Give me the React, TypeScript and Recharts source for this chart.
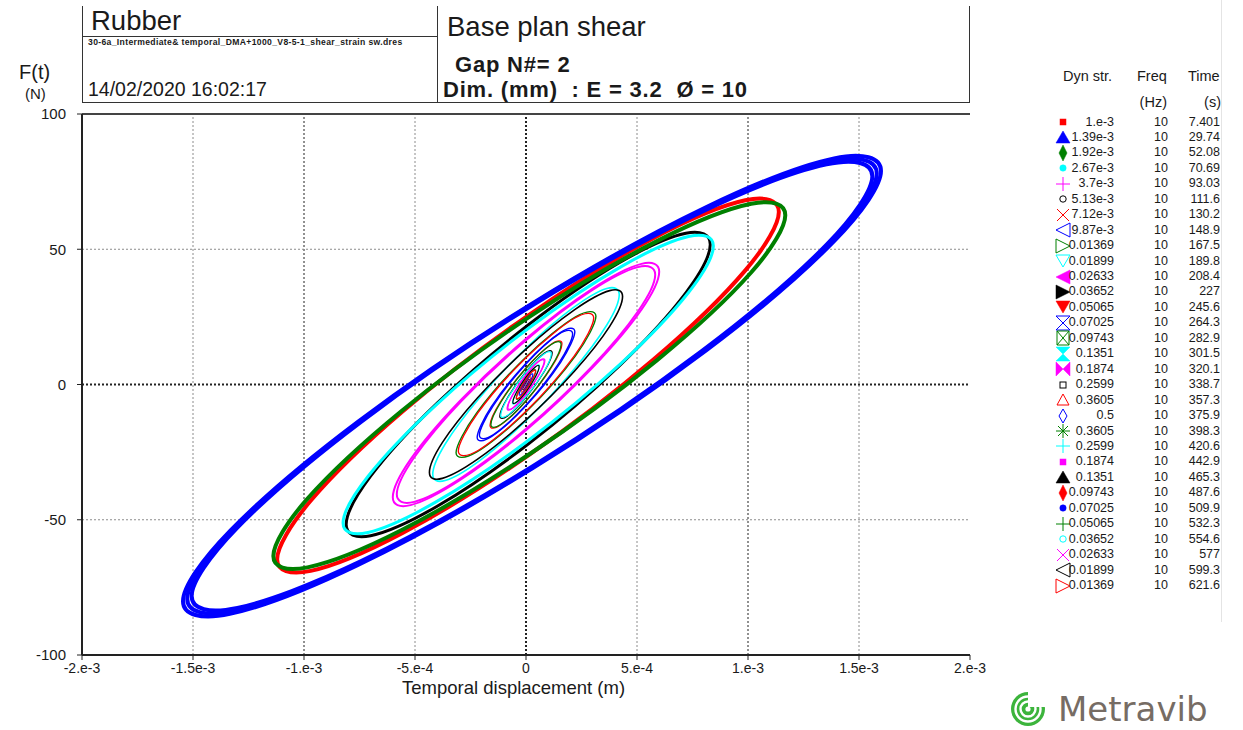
import React from "react";
import { LineChart, Line, XAxis, YAxis, ReferenceLine } from "recharts";

// Legend table
const dynStrain = [
  "1.e-3", "1.39e-3", "1.92e-3", "2.67e-3", "3.7e-3", "5.13e-3", "7.12e-3", "9.87e-3",
  "0.01369", "0.01899", "0.02633", "0.03652", "0.05065", "0.07025", "0.09743", "0.1351",
  "0.1874", "0.2599", "0.3605", "0.5", "0.3605", "0.2599", "0.1874", "0.1351",
  "0.09743", "0.07025", "0.05065", "0.03652", "0.02633", "0.01899", "0.01369",
];
const freqHz = [
  10, 10, 10, 10, 10, 10, 10, 10, 10, 10, 10, 10, 10, 10, 10, 10,
  10, 10, 10, 10, 10, 10, 10, 10, 10, 10, 10, 10, 10, 10, 10,
];
const timeS = [
  "7.401", "29.74", "52.08", "70.69", "93.03", "111.6", "130.2", "148.9",
  "167.5", "189.8", "208.4", "227", "245.6", "264.3", "282.9", "301.5",
  "320.1", "338.7", "357.3", "375.9", "398.3", "420.6", "442.9", "465.3",
  "487.6", "509.9", "532.3", "554.6", "577", "599.3", "621.6",
];

// Hysteresis loops: [displacement (mm = 1e-3 m), force (N)], points taken around each cycle
const up_1e3 = [[0.0031, 0.39], [0.0022, 0.16], [0, -0.16], [-0.0022, -0.39], [-0.0031, -0.39], [-0.0022, -0.16], [0, 0.16], [0.0022, 0.39]];
const up_139e3 = [[0.0043, 0.55], [0.003, 0.23], [0, -0.22], [-0.003, -0.54], [-0.0043, -0.55], [-0.003, -0.23], [0, 0.22], [0.003, 0.54]];
const up_192e3 = [[0.006, 0.75], [0.0042, 0.32], [0, -0.3], [-0.0042, -0.75], [-0.006, -0.75], [-0.0042, -0.32], [0, 0.3], [0.0042, 0.75]];
const up_267e3 = [[0.0083, 1.04], [0.0059, 0.44], [0, -0.42], [-0.0059, -1.03], [-0.0083, -1.04], [-0.0059, -0.44], [0, 0.42], [0.0059, 1.03]];
const up_37e3 = [[0.0115, 1.44], [0.0081, 0.61], [0, -0.58], [-0.0081, -1.43], [-0.0115, -1.44], [-0.0081, -0.61], [0, 0.58], [0.0081, 1.43]];
const up_513e3 = [[0.016, 1.9], [0.011, 0.8], [0, -0.8], [-0.011, -1.9], [-0.016, -1.9], [-0.011, -0.8], [0, 0.8], [0.011, 1.9]];
const up_712e3 = [[0.022, 2.7], [0.016, 1.1], [0, -1.1], [-0.016, -2.7], [-0.022, -2.7], [-0.016, -1.1], [0, 1.1], [0.016, 2.7]];
const up_987e3 = [[0.031, 3.7], [0.022, 1.6], [0, -1.5], [-0.022, -3.7], [-0.031, -3.7], [-0.022, -1.6], [0, 1.5], [0.022, 3.7]];
const up_01369 = [[0.044, 5.1], [0.031, 2.1], [0, -2.1], [-0.031, -5.1], [-0.044, -5.1], [-0.031, -2.1], [0, 2.1], [0.031, 5.1]];
const up_01899 = [[0.061, 6.8], [0.043, 2.9], [0, -2.7], [-0.043, -6.7], [-0.061, -6.8], [-0.043, -2.9], [0, 2.7], [0.043, 6.7]];
const up_02633 = [[0.085, 8.9], [0.06, 3.8], [0, -3.6], [-0.06, -8.8], [-0.085, -8.9], [-0.06, -3.8], [0, 3.6], [0.06, 8.8]];
const up_03652 = [[0.118, 11.7], [0.083, 4.9], [0, -4.7], [-0.083, -11.6], [-0.118, -11.7], [-0.083, -4.9], [0, 4.7], [0.083, 11.6]];
const up_05065 = [[0.162, 15.1], [0.115, 6.4], [0, -6.1], [-0.115, -15.0], [-0.162, -15.1], [-0.115, -6.4], [0, 6.1], [0.115, 15.0]];
const up_07025 = [[0.22, 19.5], [0.156, 8.2], [0, -7.9], [-0.156, -19.3], [-0.22, -19.5], [-0.156, -8.2], [0, 7.9], [0.156, 19.3]];
const up_09743 = [[0.315, 25.2], [0.223, 10.6], [0, -10.2], [-0.223, -25.0], [-0.315, -25.2], [-0.223, -10.6], [0, 10.2], [0.223, 25.0]];
const up_1351 = [[0.42, 33.2], [0.364, 22.0], [0.21, 5.0], [0, -13.4], [-0.21, -28.2], [-0.364, -35.5], [-0.42, -33.2], [-0.364, -22.0], [-0.21, -5.0], [0, 13.4], [0.21, 28.2], [0.364, 35.5]];
const up_1874 = [[0.6, 41.7], [0.52, 27.7], [0.3, 6.3], [0, -16.9], [-0.3, -35.5], [-0.52, -44.6], [-0.6, -41.7], [-0.52, -27.7], [-0.3, -6.3], [0, 16.9], [0.3, 35.5], [0.52, 44.6]];
const up_2599 = [[0.83, 51.8], [0.72, 33.9], [0.42, 6.9], [0.01, -22.0], [-0.4, -45.0], [-0.7, -55.9], [-0.81, -51.8], [-0.7, -33.9], [-0.4, -6.9], [0.01, 22.0], [0.42, 45.0], [0.72, 55.9]];
const up_3605 = [[1.139, 63.8], [0.988, 42.2], [0.574, 9.2], [0.009, -26.3], [-0.556, -54.9], [-0.97, -68.9], [-1.121, -64.6], [-0.97, -43.0], [-0.556, -10.0], [0.009, 25.5], [0.574, 54.1], [0.988, 68.1]];
// the 0.5 step drifts over its cycles: first, middle and last cycle
const peak_5 = [[1.599, 78.9], [1.388, 53.0], [0.813, 12.7], [0.027, -31.1], [-0.759, -66.8], [-1.334, -84.8], [-1.545, -80.1], [-1.334, -54.2], [-0.759, -13.9], [0.027, 29.9], [0.813, 65.6], [1.388, 83.6]];
const peak_5_mid = [[1.58, 78.0], [1.371, 52.4], [0.803, 12.6], [0.027, -30.8], [-0.75, -66.0], [-1.317, -83.7], [-1.526, -79.2], [-1.317, -53.6], [-0.75, -13.8], [0.027, 29.6], [0.803, 64.8], [1.371, 82.5]];
const peak_5_last = [[1.56, 77.0], [1.354, 51.7], [0.793, 12.4], [0.027, -30.4], [-0.74, -65.2], [-1.3, -82.6], [-1.506, -78.2], [-1.3, -52.9], [-0.74, -13.6], [0.027, 29.2], [0.793, 63.9], [1.354, 81.4]];
const down_3605 = [[1.168, 62.6], [1.014, 41.4], [0.592, 9.1], [0.015, -25.8], [-0.562, -53.9], [-0.984, -67.6], [-1.138, -63.4], [-0.984, -42.2], [-0.562, -9.9], [0.015, 25.0], [0.592, 53.1], [1.014, 66.8]];
const down_2599 = [[0.844, 51.2], [0.732, 34.0], [0.427, 7.7], [0.01, -20.7], [-0.407, -43.5], [-0.712, -54.7], [-0.824, -51.2], [-0.712, -34.0], [-0.407, -7.7], [0.01, 20.7], [0.427, 43.5], [0.732, 54.7]];
const down_1874 = [[0.582, 40.6], [0.504, 27.0], [0.291, 6.1], [0, -16.4], [-0.291, -34.5], [-0.504, -43.4], [-0.582, -40.6], [-0.504, -27.0], [-0.291, -6.1], [0, 16.4], [0.291, 34.5], [0.504, 43.4]];
const down_1351 = [[0.435, 32.5], [0.377, 21.5], [0.218, 4.9], [0, -13.1], [-0.218, -27.6], [-0.377, -34.7], [-0.435, -32.5], [-0.377, -21.5], [-0.218, -4.9], [0, 13.1], [0.218, 27.6], [0.377, 34.7]];
const down_09743 = [[0.305, 24.6], [0.216, 10.4], [0, -9.9], [-0.216, -24.4], [-0.305, -24.6], [-0.216, -10.4], [0, 9.9], [0.216, 24.4]];
const down_07025 = [[0.21, 18.7], [0.148, 7.9], [0, -7.6], [-0.148, -18.6], [-0.21, -18.7], [-0.148, -7.9], [0, 7.6], [0.148, 18.6]];
const down_05065 = [[0.158, 14.8], [0.112, 6.3], [0, -6.0], [-0.112, -14.7], [-0.158, -14.8], [-0.112, -6.3], [0, 6.0], [0.112, 14.7]];
const down_03652 = [[0.114, 11.4], [0.081, 4.8], [0, -4.6], [-0.081, -11.3], [-0.114, -11.4], [-0.081, -4.8], [0, 4.6], [0.081, 11.3]];
const down_02633 = [[0.082, 8.6], [0.058, 3.6], [0, -3.5], [-0.058, -8.6], [-0.082, -8.6], [-0.058, -3.6], [0, 3.5], [0.058, 8.6]];
const down_01899 = [[0.059, 6.6], [0.042, 2.8], [0, -2.7], [-0.042, -6.5], [-0.059, -6.6], [-0.042, -2.8], [0, 2.7], [0.042, 6.5]];
const down_01369 = [[0.043, 4.9], [0.03, 2.1], [0, -2.0], [-0.03, -4.9], [-0.043, -4.9], [-0.03, -2.1], [0, 2.0], [0.03, 4.9]];

// one entry per legend row; a row may hold several recorded cycles
const loops = [
  [up_1e3], [up_139e3], [up_192e3], [up_267e3], [up_37e3], [up_513e3], [up_712e3], [up_987e3],
  [up_01369], [up_01899], [up_02633], [up_03652], [up_05065], [up_07025], [up_09743], [up_1351],
  [up_1874], [up_2599], [up_3605], [peak_5, peak_5_mid, peak_5_last], [down_3605], [down_2599], [down_1874], [down_1351],
  [down_09743], [down_07025], [down_05065], [down_03652], [down_02633], [down_01899], [down_01369],
];

const xTicks = [-2, -1.5, -1, -0.5, 0, 0.5, 1, 1.5, 2];
const xTickLabels = ["-2.e-3", "-1.5e-3", "-1.e-3", "-5.e-4", "0", "5.e-4", "1.e-3", "1.5e-3", "2.e-3"];
const yTicks = [-100, -50, 0, 50, 100];

// styling per series
const RED = "#ff0000";
const BLUE = "#0000ff";
const GREEN = "#008000";
const CYAN = "#00ffff";
const MAGENTA = "#ff00ff";
const BLACK = "#000000";
const seriesColors = [
  RED, BLUE, GREEN, CYAN, MAGENTA, BLACK, RED, BLUE, GREEN, CYAN, MAGENTA, BLACK,
  RED, BLUE, GREEN, CYAN, MAGENTA, BLACK, RED, BLUE, GREEN, CYAN, MAGENTA, BLACK,
  RED, BLUE, GREEN, CYAN, MAGENTA, BLACK, RED,
];
const seriesWidths = [
  1, 1, 1, 1, 1, 1, 1, 1.2, 1.2, 1.2, 1.3, 1.3, 1.3, 1.4, 1.4, 1.6,
  2, 3, 4, 4, 4, 3, 2, 1.6, 1.4, 1.4, 1.3, 1.3, 1.3, 1.2, 1.2,
];
const markerShapes = [
  "square", "triUp", "diamond", "circle", "plus", "circleOpen", "cross", "triLeftOpen",
  "triRightOpen", "triDownOpen", "triLeft", "triRight", "triDown", "hourglassOpen", "boxCross", "hourglass",
  "bowtie", "squareOpen", "triUpOpen", "diamondOpen", "asterisk", "plus", "square", "triUp",
  "diamond", "circle", "plus", "circleOpen", "cross", "triLeftOpen", "triRightOpen",
];

const FONT = "'Liberation Sans', Arial, sans-serif";

// closed Catmull-Rom through the loop points (d3 curve factory)
function closedLoop(context: any) {
  let pts: number[][] = [];
  return {
    areaStart() {},
    areaEnd() {},
    lineStart() {
      pts = [];
    },
    point(x: number, y: number) {
      pts.push([+x, +y]);
    },
    lineEnd() {
      const n = pts.length;
      if (!n) return;
      context.moveTo(pts[0][0], pts[0][1]);
      for (let i = 0; i < n; i++) {
        const p0 = pts[(i - 1 + n) % n];
        const p1 = pts[i];
        const p2 = pts[(i + 1) % n];
        const p3 = pts[(i + 2) % n];
        context.bezierCurveTo(
          p1[0] + (p2[0] - p0[0]) / 6,
          p1[1] + (p2[1] - p0[1]) / 6,
          p2[0] - (p3[0] - p1[0]) / 6,
          p2[1] - (p3[1] - p1[1]) / 6,
          p2[0],
          p2[1],
        );
      }
      context.closePath();
    },
  };
}

function Marker({ shape, color }: { shape: string; color: string }) {
  const open = { fill: "none", stroke: color, strokeWidth: 1 };
  const solid = { fill: color, stroke: color, strokeWidth: 0.5 };
  let el: React.ReactNode = null;
  switch (shape) {
    case "square":
      el = <rect x={-3} y={-3} width={6} height={6} {...solid} />;
      break;
    case "squareOpen":
      el = <rect x={-3} y={-3} width={6} height={6} {...open} />;
      break;
    case "circle":
      el = <circle r={3.2} {...solid} />;
      break;
    case "circleOpen":
      el = <circle r={3.2} {...open} />;
      break;
    case "triUp":
      el = <polygon points="-7,6 7,6 0,-6" {...solid} />;
      break;
    case "triUpOpen":
      el = <polygon points="-6,5 6,5 0,-6" {...open} />;
      break;
    case "triDown":
      el = <polygon points="-7,-6 7,-6 0,6" {...solid} />;
      break;
    case "triDownOpen":
      el = <polygon points="-7,-6 7,-6 0,6" {...open} />;
      break;
    case "triLeft":
      el = <polygon points="7,-7 7,7 -7,0" {...solid} />;
      break;
    case "triLeftOpen":
      el = <polygon points="7,-7 7,7 -7,0" {...open} />;
      break;
    case "triRight":
      el = <polygon points="-7,-7 -7,7 7,0" {...solid} />;
      break;
    case "triRightOpen":
      el = <polygon points="-7,-7 -7,7 7,0" {...open} />;
      break;
    case "diamond":
      el = <polygon points="0,-8 4,0 0,8 -4,0" {...solid} />;
      break;
    case "diamondOpen":
      el = <polygon points="0,-7 4,0 0,7 -4,0" {...open} />;
      break;
    case "plus":
      el = <path d="M-7,0H7M0,-7V7" {...open} />;
      break;
    case "cross":
      el = <path d="M-6,-6L6,6M-6,6L6,-6" {...open} />;
      break;
    case "asterisk":
      el = <path d="M-7,0H7M0,-7V7M-5,-5L5,5M-5,5L5,-5" {...open} />;
      break;
    case "hourglass":
      el = <polygon points="-7,-7 7,-7 -7,7 7,7" {...solid} />;
      break;
    case "hourglassOpen":
      el = <polygon points="-7,-7 7,-7 -7,7 7,7" {...open} />;
      break;
    case "bowtie":
      el = <polygon points="-7,-7 7,7 7,-7 -7,7" {...solid} />;
      break;
    case "boxCross":
      el = <path d="M-6,-7H6V7H-6ZM-6,-7L6,7M6,-7L-6,7" {...open} />;
      break;
  }
  return (
    <svg width={18} height={18} viewBox="-9 -9 18 18" style={{ position: "absolute", left: 1054, top: -9 }}>
      {el}
    </svg>
  );
}

const abs = (left: number, top: number, extra: React.CSSProperties = {}): React.CSSProperties => ({
  position: "absolute",
  left,
  top,
  whiteSpace: "pre",
  lineHeight: 1,
  ...extra,
});

export default function App() {
  const rowTop = 122;
  const rowStep = 15.45;

  return (
    <div
      style={{
        position: "absolute",
        left: 0,
        top: 0,
        width: 1243,
        height: 730,
        background: "#fff",
        fontFamily: FONT,
        color: "#1a1a1a",
        overflow: "hidden",
      }}
    >
      {/* header frame */}
      <svg width={1243} height={110} style={{ position: "absolute", left: 0, top: 0 }}>
        <g stroke="#333" strokeWidth={1} shapeRendering="crispEdges">
          <line x1={82.5} y1={6} x2={82.5} y2={102} />
          <line x1={437.5} y1={6} x2={437.5} y2={102} />
          <line x1={969.5} y1={6} x2={969.5} y2={102} />
          <line x1={82} y1={102.5} x2={970} y2={102.5} />
          <line x1={82} y1={36.5} x2={437} y2={36.5} />
        </g>
      </svg>
      <div style={abs(91, 7, { fontSize: 27.5 })}>Rubber</div>
      <div style={abs(88, 38, { fontSize: 8.6, fontWeight: 700, letterSpacing: 0.35 })}>
        30-6a_Intermediate&amp; temporal_DMA+1000_V8-5-1_shear_strain sw.dres
      </div>
      <div style={abs(88, 80, { fontSize: 19.5 })}>14/02/2020 16:02:17</div>
      <div style={abs(447, 13, { fontSize: 27.5 })}>Base plan shear</div>
      <div style={abs(455, 54, { fontSize: 22, fontWeight: 700, letterSpacing: 0.8 })}>Gap N#= 2</div>
      <div style={abs(443, 79, { fontSize: 22, fontWeight: 700, letterSpacing: 0.8 })}>
        {"Dim. (mm)  : E = 3.2  Ø = 10"}
      </div>

      {/* axis titles */}
      <div style={abs(19, 62, { fontSize: 20 })}>F(t)</div>
      <div style={abs(25, 86, { fontSize: 15 })}>(N)</div>
      <div style={abs(402, 679, { fontSize: 18.5 })}>Temporal displacement (m)</div>

      <div style={{ position: "absolute", left: 0, top: 0 }}>
        <LineChart width={1000} height={730} margin={{ top: 114, right: 30, bottom: 45, left: 22 }}>
          <XAxis
            type="number"
            dataKey="x"
            domain={[-2, 2]}
            ticks={xTicks}
            interval={0}
            tickFormatter={(v: number) => xTickLabels[xTicks.indexOf(v)] ?? String(v)}
            tick={{ fontSize: 14, fill: "#1a1a1a", fontFamily: FONT }}
            tickSize={5}
            tickMargin={3}
            height={30}
            axisLine={{ stroke: "#222", strokeWidth: 2 }}
            tickLine={{ stroke: "#222", strokeWidth: 1 }}
          />
          <YAxis
            type="number"
            domain={[-100, 100]}
            ticks={yTicks}
            interval={0}
            tick={{ fontSize: 15, fill: "#1a1a1a", fontFamily: FONT }}
            tickSize={5}
            tickMargin={11}
            width={60}
            axisLine={{ stroke: "#222", strokeWidth: 2 }}
            tickLine={{ stroke: "#222", strokeWidth: 1 }}
          />
          {[-1.5, -0.5, 0.5, 1.5].map((v) => (
            <ReferenceLine key={`gx${v}`} x={v} stroke="#8c8c8c" strokeDasharray="2 2" strokeWidth={1} />
          ))}
          {[-1, 1].map((v) => (
            <ReferenceLine key={`mx${v}`} x={v} stroke="#222" strokeDasharray="2 2" strokeWidth={1} />
          ))}
          {[-50, 50].map((v) => (
            <ReferenceLine key={`gy${v}`} y={v} stroke="#8c8c8c" strokeDasharray="2 2" strokeWidth={1} />
          ))}
          <ReferenceLine x={0} stroke="#222" strokeDasharray="2 2" strokeWidth={2} />
          <ReferenceLine y={0} stroke="#222" strokeDasharray="2 2" strokeWidth={2} />
          <ReferenceLine y={100} stroke="#444" strokeWidth={2} />
          {loops.flatMap((cycles, i) =>
            cycles.map((pts, c) => (
              <Line
                key={`loop${i}-${c}`}
                data={pts.map(([x, f]) => ({ x, f }))}
                dataKey="f"
                type={closedLoop as any}
                stroke={seriesColors[i]}
                strokeWidth={seriesWidths[i]}
                dot={false}
                activeDot={false}
                isAnimationActive={false}
              />
            )),
          )}
        </LineChart>
      </div>

      {/* legend table */}
      <div style={abs(1063, 69, { fontSize: 14.5 })}>Dyn str.</div>
      <div style={abs(1137, 69, { fontSize: 14.5 })}>Freq</div>
      <div style={abs(1188, 69, { fontSize: 14.5 })}>Time</div>
      <div style={abs(1167, 95, { fontSize: 14.5, transform: "translateX(-100%)" })}>(Hz)</div>
      <div style={abs(1221, 95, { fontSize: 14.5, transform: "translateX(-100%)" })}>(s)</div>
      {dynStrain.map((s, i) => {
        const y = rowTop + i * rowStep;
        return (
          <div key={`row${i}`} style={{ position: "absolute", left: 0, top: y, width: 1243, height: 0 }}>
            <Marker shape={markerShapes[i]} color={seriesColors[i]} />
            <div style={abs(1114, -6.5, { fontSize: 12.5, transform: "translateX(-100%)" })}>{s}</div>
            <div style={abs(1168, -6.5, { fontSize: 12.5, transform: "translateX(-100%)" })}>{freqHz[i]}</div>
            <div style={abs(1220, -6.5, { fontSize: 12.5, transform: "translateX(-100%)" })}>{timeS[i]}</div>
          </div>
        );
      })}
      <div style={{ position: "absolute", left: 1221, top: 0, width: 1, height: 622, background: "#e4e4e4" }} />

      {/* brand mark */}
      <svg width={40} height={40} style={{ position: "absolute", left: 1009, top: 690 }}>
        <circle cx={19} cy={19} r={17} fill="#3cb43c" />
        <circle cx={19} cy={19} r={12.5} fill="none" stroke="#fff" strokeWidth={2.4} />
        <circle cx={19} cy={19} r={7.5} fill="none" stroke="#fff" strokeWidth={2.4} />
        <circle cx={19} cy={19} r={2.6} fill="#fff" />
        <rect x={19} y={0} width={22} height={17} fill="#fff" />
      </svg>
      <div
        style={abs(1058, 689, {
          fontSize: 34,
          lineHeight: "normal",
          fontFamily: "'DejaVu Sans', sans-serif",
          color: "#766c64",
        })}
      >
        Metravib
      </div>
    </div>
  );
}
